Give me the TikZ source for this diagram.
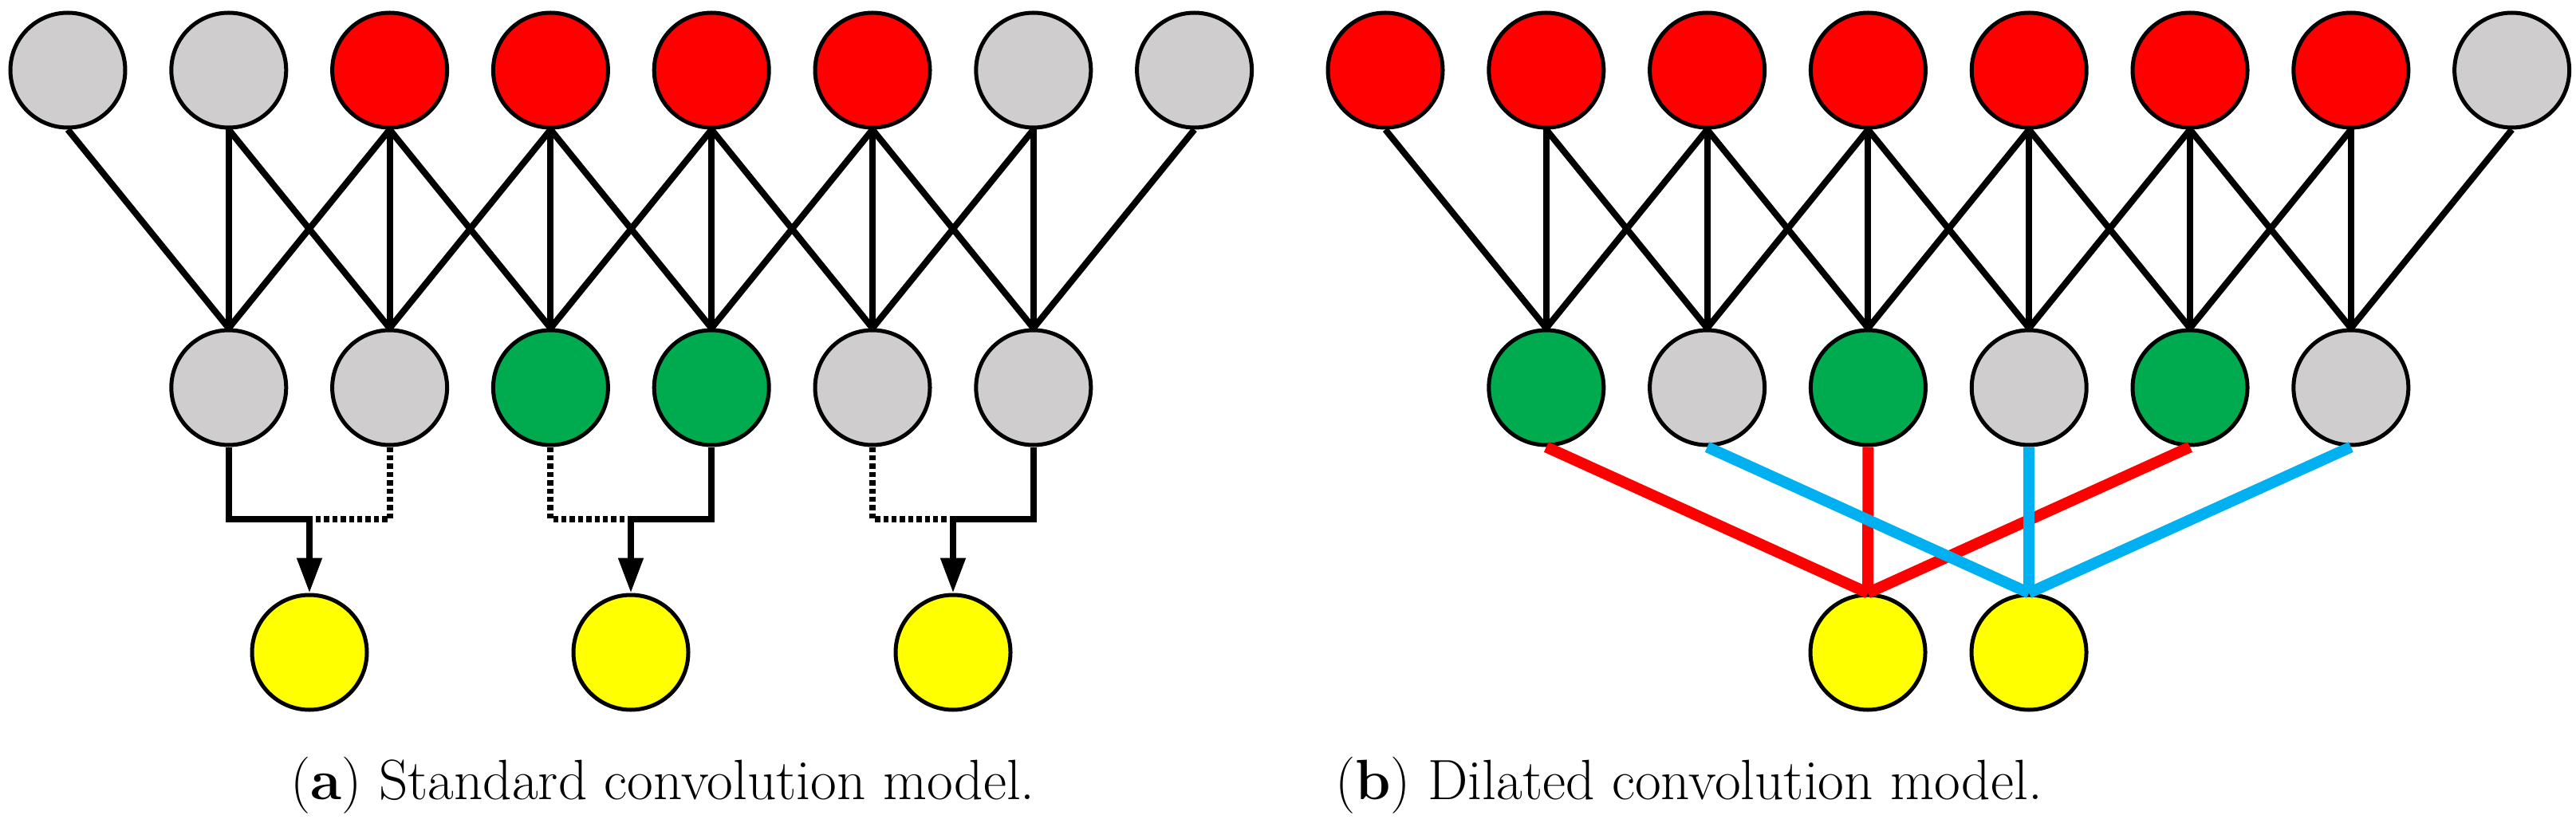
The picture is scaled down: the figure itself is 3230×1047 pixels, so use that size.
\documentclass[tikz,border=0pt]{standalone}
\usetikzlibrary{arrows.meta}
\definecolor{cgray}{HTML}{CFCDCD}
\definecolor{cred}{HTML}{FF0000}
\definecolor{cgreen}{HTML}{00AB4F}
\definecolor{cyel}{HTML}{FFFF00}
\definecolor{cblue}{HTML}{00B0F0}
\begin{document}
\begin{tikzpicture}[x=0.25pt,y=-0.25pt,
  nd/.style={circle,draw=black,line width=1.25pt,minimum size=36pt,inner sep=0pt},
  ln/.style={line width=2pt,black},
  dt/.style={line width=2pt,black,dash pattern=on 1.6pt off 1pt},
  cl/.style={line width=3.5pt},
  arr/.style={line width=2pt,-{Triangle[length=11pt,width=7.5pt]}},
  captxt/.style={font=\fontsize{17.8}{20}\selectfont}]
\useasboundingbox (0,0) rectangle (3230,1047);
% ---------- panel a ----------
\foreach \i/\c in {0/cgray,1/cgray,2/cred,3/cred,4/cred,5/cred,6/cgray,7/cgray}
  \node[nd,fill=\c] (at\i) at ({85+201.8*\i},88) {};
\foreach \i/\c in {1/cgray,2/cgray,3/cgreen,4/cgreen,5/cgray,6/cgray}
  \node[nd,fill=\c] (am\i) at ({85+201.8*\i},486) {};
\foreach \i/\x in {1/388,2/791,3/1195}
  \node[nd,fill=cyel] (ay\i) at (\x,818) {};
\foreach \i [evaluate=\i as \p using int(\i-1), evaluate=\i as \n using int(\i+1)] in {1,...,6}{
  \draw[ln] (at\p.south) -- (am\i.north);
  \draw[ln] (at\i.south) -- (am\i.north);
  \draw[ln] (at\n.south) -- (am\i.north);
}
\coordinate (ab1) at (388,651);
\coordinate (ab2) at (791,651);
\coordinate (ab3) at (1195,651);
\draw[ln] (am1.south) |- (ab1);
\draw[dt] (am2.south) |- (ab1);
\draw[dt] (am3.south) |- (ab2);
\draw[ln] (am4.south) |- (ab2);
\draw[dt] (am5.south) |- (ab3);
\draw[ln] (am6.south) |- (ab3);
\draw[arr] (ab1) -- (ay1.north);
\draw[arr] (ab2) -- (ay2.north);
\draw[arr] (ab3) -- (ay3.north);
\node[captxt] (capa) at (831,985) {(\textbf{a}) Standard convolution model.};
% ---------- panel b ----------
\foreach \i/\c in {0/cred,1/cred,2/cred,3/cred,4/cred,5/cred,6/cred,7/cgray}
  \node[nd,fill=\c] (bt\i) at ({1737+201.8*\i},88) {};
\foreach \i/\c in {1/cgreen,2/cgray,3/cgreen,4/cgray,5/cgreen,6/cgray}
  \node[nd,fill=\c] (bm\i) at ({1737+201.8*\i},486) {};
\node[nd,fill=cyel] (by1) at (2342,818) {};
\node[nd,fill=cyel] (by2) at (2544,818) {};
\foreach \i [evaluate=\i as \p using int(\i-1), evaluate=\i as \n using int(\i+1)] in {1,...,6}{
  \draw[ln] (bt\p.south) -- (bm\i.north);
  \draw[ln] (bt\i.south) -- (bm\i.north);
  \draw[ln] (bt\n.south) -- (bm\i.north);
}
\draw[cl,cred] (bm1.south) -- (by1.north);
\draw[cl,cred] (bm3.south) -- (by1.north);
\draw[cl,cred] (bm5.south) -- (by1.north);
\draw[cl,cblue] (bm2.south) -- (by2.north);
\draw[cl,cblue] (bm4.south) -- (by2.north);
\draw[cl,cblue] (bm6.south) -- (by2.north);
\node[captxt,anchor=west] (capb) at (1660,985) {(\textbf{b}) Dilated convolution model.};
\end{tikzpicture}
\end{document}
